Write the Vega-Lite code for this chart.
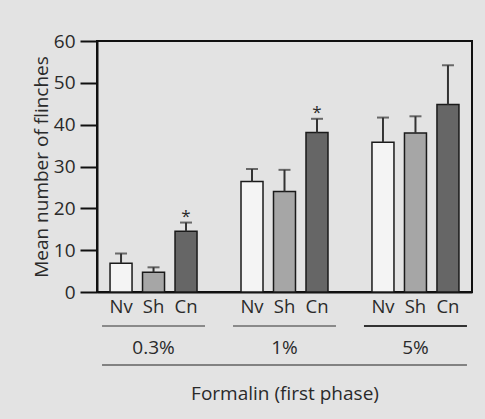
{
  "$schema": "https://vega.github.io/schema/vega-lite/v6.json",
  "width": 375,
  "height": 251,
  "autosize": {"type": "none"},
  "padding": {"left": 97, "top": 41, "right": 13, "bottom": 127},
  "background": "#e3e3e3",
  "config": {
    "font": "Open Sans",
    "view": {"stroke": "#111111", "strokeWidth": 2},
    "axis": {"labelFont": "Open Sans", "titleFont": "Open Sans", "labelColor": "#2a2a2a", "titleColor": "#2a2a2a", "labelFontSize": 19, "titleFontSize": 19, "titleFontWeight": "normal", "grid": false}
  },
  "datasets": {
    "bars": [
      {"dose": "0.3%", "group": "Nv", "mean": 6.9, "upper": 9.2, "star": ""},
      {"dose": "0.3%", "group": "Sh", "mean": 4.7, "upper": 5.9, "star": ""},
      {"dose": "0.3%", "group": "Cn", "mean": 14.5, "upper": 16.6, "star": "*"},
      {"dose": "1%", "group": "Nv", "mean": 26.4, "upper": 29.4, "star": ""},
      {"dose": "1%", "group": "Sh", "mean": 24.0, "upper": 29.2, "star": ""},
      {"dose": "1%", "group": "Cn", "mean": 38.1, "upper": 41.4, "star": "*"},
      {"dose": "5%", "group": "Nv", "mean": 35.8, "upper": 41.7, "star": ""},
      {"dose": "5%", "group": "Sh", "mean": 38.0, "upper": 42.0, "star": ""},
      {"dose": "5%", "group": "Cn", "mean": 44.8, "upper": 54.2, "star": ""}
    ],
    "groups": [{"dose": "0.3%"}, {"dose": "1%"}, {"dose": "5%"}],
    "span": [{"from": "0.3%", "to": "5%"}]
  },
  "layer": [
    {
      "data": {"name": "bars"},
      "mark": {"type": "bar", "stroke": "#1a1a1a", "strokeWidth": 1.5},
      "encoding": {
        "x": {
          "field": "dose", "type": "nominal",
          "scale": {"domain": ["0.3%", "1%", "5%"], "paddingInner": 0.2137, "paddingOuter": 0.0385},
          "axis": {"title": "Formalin (first phase)", "ticks": false, "tickSize": 0, "labelAngle": 0, "labelBaseline": "alphabetic", "labelPadding": 61, "domainColor": "#111111", "domainWidth": 2, "titleBaseline": "alphabetic", "titlePadding": 42}
        },
        "xOffset": {"field": "group", "type": "nominal", "scale": {"domain": ["Nv", "Sh", "Cn"], "paddingInner": 0.323, "paddingOuter": 0.246}},
        "y": {
          "field": "mean", "type": "quantitative",
          "scale": {"domain": [0, 60], "nice": false},
          "axis": {"title": "Mean number of flinches", "values": [0, 10, 20, 30, 40, 50, 60], "tickSize": 17, "tickWidth": 2, "tickColor": "#111111", "domainColor": "#111111", "domainWidth": 2, "labelPadding": 5, "titlePadding": 2}
        },
        "fill": {"field": "group", "type": "nominal", "scale": {"domain": ["Nv", "Sh", "Cn"], "range": ["#f4f4f4", "#a6a6a6", "#666666"]}, "legend": null}
      }
    },
    {
      "data": {"name": "bars"},
      "mark": {"type": "rule", "color": "#333333", "strokeWidth": 2},
      "encoding": {
        "x": {"field": "dose", "type": "nominal"},
        "xOffset": {"field": "group", "type": "nominal"},
        "y": {"field": "mean", "type": "quantitative"},
        "y2": {"field": "upper"}
      }
    },
    {
      "data": {"name": "bars"},
      "mark": {"type": "tick", "color": "#333333", "size": 12, "thickness": 2},
      "encoding": {
        "x": {"field": "dose", "type": "nominal"},
        "xOffset": {"field": "group", "type": "nominal"},
        "y": {"field": "upper", "type": "quantitative"}
      }
    },
    {
      "data": {"name": "bars"},
      "mark": {"type": "text", "fontSize": 17, "color": "#2a2a2a", "baseline": "alphabetic", "dy": -1},
      "encoding": {
        "x": {"field": "dose", "type": "nominal"},
        "xOffset": {"field": "group", "type": "nominal"},
        "y": {"field": "upper", "type": "quantitative"},
        "text": {"field": "star"}
      }
    },
    {
      "data": {"name": "bars"},
      "mark": {"type": "text", "fontSize": 18.5, "color": "#2a2a2a", "baseline": "alphabetic", "dy": 21},
      "encoding": {
        "x": {"field": "dose", "type": "nominal"},
        "xOffset": {"field": "group", "type": "nominal"},
        "y": {"datum": 0, "type": "quantitative"},
        "text": {"field": "group"}
      }
    },
    {
      "data": {"name": "groups"},
      "mark": {"type": "rule", "color": "#333333", "yOffset": 34},
      "encoding": {
        "x": {"field": "dose", "type": "nominal", "bandPosition": 0},
        "x2": {"field": "dose", "bandPosition": 1},
        "y": {"datum": 0, "type": "quantitative"},
        "strokeWidth": {"condition": {"test": "datum.dose === '5%'", "value": 2}, "value": 1.2}
      }
    },
    {
      "data": {"name": "span"},
      "mark": {"type": "rule", "color": "#222222", "strokeWidth": 1.2, "yOffset": 73},
      "encoding": {
        "x": {"field": "from", "type": "nominal", "bandPosition": 0},
        "x2": {"field": "to", "bandPosition": 1},
        "y": {"datum": 0, "type": "quantitative"}
      }
    }
  ]
}
